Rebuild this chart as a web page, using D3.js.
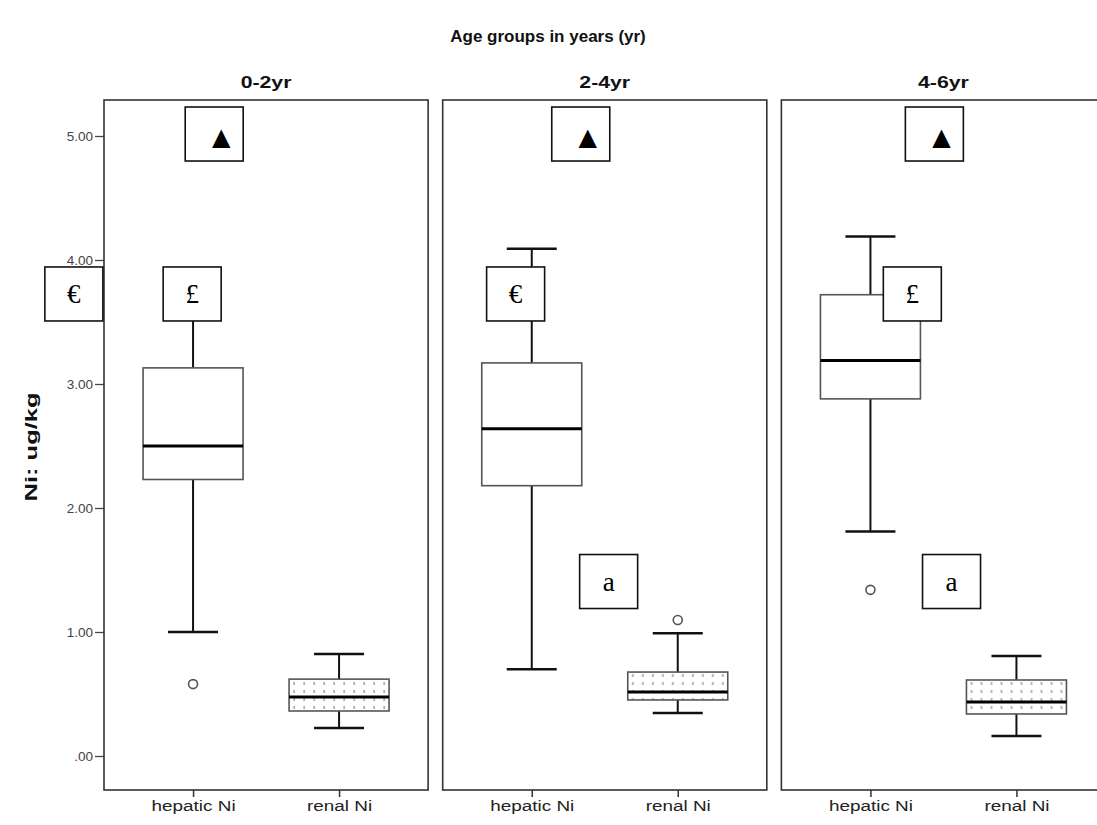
<!DOCTYPE html>
<html><head><meta charset="utf-8">
<script src="https://cdn.jsdelivr.net/npm/d3@7"></script>
<style>
body{margin:0;background:#fff;}
svg{display:block;}
</style></head>
<body>
<svg id="chart" width="1097" height="825"></svg>
<script>
// ---- data ----
const groups = ["0-2yr", "2-4yr", "4-6yr"];
const measures = ["hepatic Ni", "renal Ni"];
const yTicks = [0, 1, 2, 3, 4, 5];

const hepaticLow  = [1.00, 0.70, 1.81];
const hepaticQ1   = [2.23, 2.18, 2.88];
const hepaticMed  = [2.50, 2.64, 3.19];
const hepaticQ3   = [3.13, 3.17, 3.72];
const hepaticHigh = [3.60, 4.09, 4.19];
const hepaticOut  = [[0.58], [], [1.34]];

const renalLow  = [0.226, 0.347, 0.161];
const renalQ1   = [0.363, 0.452, 0.339];
const renalMed  = [0.476, 0.516, 0.435];
const renalQ3   = [0.620, 0.677, 0.613];
const renalHigh = [0.823, 0.990, 0.806];
const renalOut  = [[], [1.097], []];

// annotation labels: group, x as fraction of panel width, y in data units
const annGroup = ["0-2yr","0-2yr","0-2yr","2-4yr","2-4yr","2-4yr","4-6yr","4-6yr","4-6yr"];
const annText  = ["▲","£","€","▲","€","a","▲","£","a"];
const annX     = [0.340,0.272,-0.093,0.426,0.225,0.512,0.472,0.404,0.525];
const annY     = [5.016,3.726,3.726,5.016,3.726,1.407,5.016,3.726,1.407];

// ---- build ----
const stats = [];
groups.forEach((g, i) => {
  stats.push({group:g, measure:measures[0], low:hepaticLow[i], q1:hepaticQ1[i], med:hepaticMed[i], q3:hepaticQ3[i], high:hepaticHigh[i], out:hepaticOut[i]});
  stats.push({group:g, measure:measures[1], low:renalLow[i], q1:renalQ1[i], med:renalMed[i], q3:renalQ3[i], high:renalHigh[i], out:renalOut[i]});
});
const anns = annText.map((t, i) => ({group:annGroup[i], text:t, fx:annX[i], y:annY[i]}));

const svg = d3.select("#chart");
const frameTop = 100, frameBottom = 790;
const sans = "Liberation Sans, Arial, sans-serif";

// widen text glyphs (reference text is horizontally stretched)
function widen(sel, k) {
  sel.each(function() {
    const w = this.getComputedTextLength();
    d3.select(this).attr("textLength", w * k).attr("lengthAdjust", "spacingAndGlyphs");
  });
}

const panelX = d3.scaleBand().domain(groups).range([104, 1105.5]).paddingInner(0.043).paddingOuter(0);
const pw = panelX.bandwidth();
const xIn = d3.scalePoint().domain(measures).range([0, pw]).padding(0.61);
const y = d3.scaleLinear().domain([0, 5]).range([756, 136]);
const boxW = 100, capW = 50;

// pattern for renal boxes
const defs = svg.append("defs");
const pat = defs.append("pattern").attr("id","dots").attr("patternUnits","userSpaceOnUse")
  .attr("width",10).attr("height",8);
pat.append("rect").attr("width",10).attr("height",8).attr("fill","#fff");
pat.append("rect").attr("x",4.5).attr("y",2).attr("width",1.2).attr("height",3).attr("fill","#888");

// title
svg.append("text").attr("x", 548).attr("y", 42).attr("text-anchor","middle")
  .attr("font-family",sans).attr("font-weight","bold")
  .attr("font-size",17).attr("fill","#111").text("Age groups in years (yr)");

// y label
svg.append("text").attr("transform","translate(37,447) rotate(-90)").attr("text-anchor","middle")
  .attr("font-family",sans).attr("font-weight","bold")
  .attr("font-size",17).attr("fill","#111").text("Ni: ug/kg")
  .call(widen, 1.5);

// y axis
const yAxis = d3.axisLeft(y).tickValues(yTicks).tickSize(9).tickPadding(2)
  .tickFormat(d => d3.format(".2f")(d).replace(/^0/, ""));
const ya = svg.append("g").attr("transform","translate(104,0)").call(yAxis);
ya.select(".domain").remove();
ya.selectAll("line").attr("stroke","#444").attr("stroke-width",1.3);
ya.selectAll("text").attr("font-family",sans).attr("font-size",13.5).attr("fill","#444");

const panels = svg.selectAll("g.panel").data(groups).join("g").attr("class","panel")
  .attr("transform", d => `translate(${panelX(d)},0)`);

// panel titles
panels.append("text").attr("x", pw/2).attr("y", 88).attr("text-anchor","middle")
  .attr("font-family",sans).attr("font-weight","bold")
  .attr("font-size",17).attr("fill","#111").text(d => d)
  .call(widen, 1.25);

// frames
panels.append("rect").attr("x",0).attr("y",frameTop).attr("width",pw).attr("height",frameBottom-frameTop)
  .attr("fill","none").attr("stroke","#333").attr("stroke-width",1.6);

// x axes
panels.each(function() {
  const xa = d3.select(this).append("g").attr("transform",`translate(0,${frameBottom})`)
    .call(d3.axisBottom(xIn).tickSize(7).tickPadding(4));
  xa.select(".domain").remove();
  xa.selectAll("line").attr("stroke","#333").attr("stroke-width",1.5);
  xa.selectAll("text").attr("font-family",sans).attr("font-size",14).attr("fill","#222")
    .call(widen, 1.35);
});

// boxes
const bx = panels.selectAll("g.box").data(g => stats.filter(s => s.group === g)).join("g").attr("class","box")
  .attr("transform", d => `translate(${xIn(d.measure)},0)`);

bx.append("line").attr("x1",0).attr("x2",0).attr("y1",d=>y(d.high)).attr("y2",d=>y(d.q3))
  .attr("stroke","#111").attr("stroke-width",2);
bx.append("line").attr("x1",0).attr("x2",0).attr("y1",d=>y(d.q1)).attr("y2",d=>y(d.low))
  .attr("stroke","#111").attr("stroke-width",2);
bx.append("line").attr("x1",-capW/2).attr("x2",capW/2).attr("y1",d=>y(d.high)).attr("y2",d=>y(d.high))
  .attr("stroke","#111").attr("stroke-width",2.5);
bx.append("line").attr("x1",-capW/2).attr("x2",capW/2).attr("y1",d=>y(d.low)).attr("y2",d=>y(d.low))
  .attr("stroke","#111").attr("stroke-width",2.5);
bx.append("rect").attr("x",-boxW/2).attr("width",boxW).attr("y",d=>y(d.q3)).attr("height",d=>y(d.q1)-y(d.q3))
  .attr("fill", d => d.measure === measures[1] ? "url(#dots)" : "#fff")
  .attr("stroke","#555").attr("stroke-width",1.6);
bx.append("line").attr("x1",-boxW/2).attr("x2",boxW/2).attr("y1",d=>y(d.med)).attr("y2",d=>y(d.med))
  .attr("stroke","#000").attr("stroke-width",3);
bx.selectAll("circle").data(d => d.out).join("circle").attr("cx",0).attr("cy",d=>y(d)).attr("r",4.5)
  .attr("fill","#fff").attr("stroke","#555").attr("stroke-width",1.6);

// annotations
const an = panels.selectAll("g.ann").data(g => anns.filter(a => a.group === g)).join("g").attr("class","ann")
  .attr("transform", d => `translate(${d.fx*pw},${y(d.y)})`);
an.append("rect").attr("x",-29).attr("y",-27).attr("width",58).attr("height",54)
  .attr("fill","#fff").attr("stroke","#111").attr("stroke-width",1.6);
an.append("text").attr("text-anchor","middle")
  .attr("x", d => d.text === "▲" ? 7 : 0)
  .attr("y", d => d.text === "▲" ? 11 : 9)
  .attr("font-family", d => d.text === "▲" ? "DejaVu Sans, sans-serif" : "Liberation Serif, Times New Roman, serif")
  .attr("font-size", d => d.text === "▲" ? 24 : 27)
  .attr("fill","#000").text(d => d.text);
</script>
</body></html>
